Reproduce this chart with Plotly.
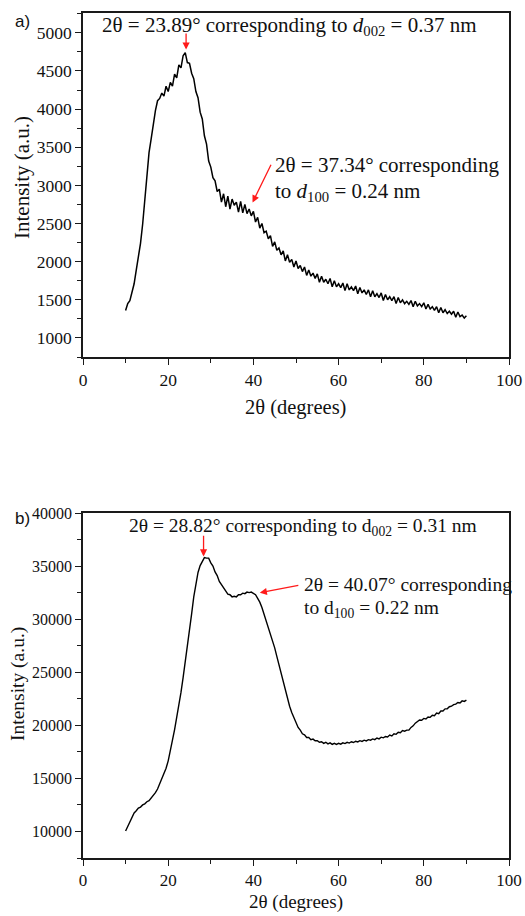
import numpy as np
import plotly.graph_objects as go

W, H = 525, 916

# ---------------- data ----------------
two_theta = np.round(np.arange(10.0, 90.01, 0.5), 2).tolist()

intensity_a = [
    1360, 1450, 1490, 1620, 1710, 1890, 2040, 2240, 2490, 2810,
    3140, 3430, 3610, 3820, 3980, 4110, 4140, 4210, 4170, 4300,
    4230, 4350, 4300, 4460, 4410, 4580, 4540, 4700, 4740, 4610,
    4600, 4470, 4400, 4230, 4150, 3960, 3870, 3650, 3540, 3320,
    3240, 3100, 3060, 2920, 2950, 2780, 2890, 2720, 2860, 2690,
    2820, 2740, 2780, 2650, 2790, 2640, 2750, 2630, 2690, 2600,
    2660, 2520, 2580, 2440, 2500, 2380, 2400, 2300, 2340, 2200,
    2260, 2150, 2180, 2090, 2140, 2010, 2090, 1990, 2030, 1930,
    2010, 1910, 1950, 1870, 1930, 1820, 1890, 1810, 1850, 1780,
    1840, 1730, 1810, 1730, 1770, 1710, 1780, 1670, 1750, 1670,
    1710, 1660, 1720, 1620, 1710, 1630, 1670, 1620, 1680, 1580,
    1660, 1590, 1630, 1570, 1630, 1540, 1620, 1540, 1580, 1530,
    1590, 1490, 1570, 1500, 1540, 1490, 1540, 1450, 1530, 1460,
    1500, 1450, 1480, 1440, 1490, 1410, 1480, 1420, 1450, 1410,
    1460, 1380, 1440, 1380, 1410, 1360, 1410, 1330, 1400, 1330,
    1370, 1320, 1350, 1310, 1350, 1270, 1340, 1280, 1300, 1260,
    1290,
]

intensity_b = [
    10050, 10450, 10800, 11350, 11750, 11950, 12200, 12300, 12500, 12600,
    12800, 12900, 13150, 13300, 13650, 14000, 14450, 14900, 15450, 15950,
    16650, 17500, 18600, 19600, 20700, 21900, 23100, 24500, 25900, 27300,
    28800, 30500, 32100, 33400, 34400, 35050, 35450, 35800, 35750, 35750,
    35300, 35000, 34450, 34100, 33550, 33250, 32850, 32650, 32350, 32300,
    32100, 32150, 32100, 32300, 32300, 32450, 32400, 32550, 32500, 32550,
    32400, 32300, 31950, 31600, 31100, 30500, 29900, 29300, 28700, 28000,
    27300, 26500, 25700, 24900, 24100, 23300, 22500, 21800, 21200, 20700,
    20250, 19800, 19550, 19200, 19100, 18850, 18850, 18650, 18700, 18550,
    18550, 18400, 18450, 18300, 18400, 18250, 18350, 18200, 18300, 18200,
    18300, 18220, 18350, 18280, 18400, 18330, 18450, 18380, 18500, 18430,
    18550, 18480, 18600, 18530, 18650, 18600, 18720, 18650, 18800, 18720,
    18880, 18820, 18950, 18900, 19080, 19000, 19200, 19150, 19350, 19300,
    19500, 19450, 19550, 19550, 19800, 19950, 20200, 20350, 20500, 20480,
    20650, 20600, 20780, 20750, 20950, 20900, 21150, 21100, 21350, 21350,
    21550, 21550, 21750, 21800, 21950, 22000, 22150, 22100, 22300, 22250,
    22380,
]

x_ticks = [0, 20, 40, 60, 80, 100]
y_ticks_a = [1000, 1500, 2000, 2500, 3000, 3500, 4000, 4500, 5000]
y_ticks_b = [10000, 15000, 20000, 25000, 30000, 35000, 40000]

# ---------------- helpers (window pixels -> paper fractions) ----------------
def px(x):
    return x / W

def py(y):
    return 1 - y / H

SERIF = "Liberation Serif"
SANS = "Liberation Sans"
AX = "#1a1a1a"

fig = go.Figure()
fig.add_trace(go.Scatter(x=two_theta, y=intensity_a, mode="lines",
                         line=dict(color="black", width=1.5),
                         xaxis="x", yaxis="y", showlegend=False))
fig.add_trace(go.Scatter(x=two_theta, y=intensity_b, mode="lines",
                         line=dict(color="black", width=1.4),
                         xaxis="x2", yaxis="y2", showlegend=False))

def xaxis(size):
    return dict(range=[0, 100], tickvals=x_ticks,
                ticktext=[str(v) for v in x_ticks], showline=True, mirror=True,
                linecolor=AX, linewidth=1.5, ticks="outside", ticklen=6,
                tickwidth=1.3, tickcolor=AX, showgrid=False, zeroline=False,
                automargin=False,
                tickfont=dict(family=SERIF, size=size, color="#111"),
                minor=dict(dtick=10, tick0=0, ticks="outside", ticklen=4,
                           tickcolor=AX, tickwidth=1.1, showgrid=False))

def yaxis(size, vals, rng, minor_dt):
    return dict(range=rng, tickvals=vals, ticktext=[str(v) for v in vals],
                showline=True, mirror=True, linecolor=AX, linewidth=1.5,
                ticks="outside", ticklen=6, tickwidth=1.3, tickcolor=AX,
                showgrid=False, zeroline=False, automargin=False,
                tickfont=dict(family=SERIF, size=size, color="#111"),
                minor=dict(dtick=minor_dt, tick0=0, ticks="outside", ticklen=4,
                           tickcolor=AX, tickwidth=1.1, showgrid=False))

fig.update_layout(
    width=W, height=H,
    margin=dict(l=0, r=0, t=0, b=0, pad=0),
    paper_bgcolor="white", plot_bgcolor="white",
    xaxis=dict(domain=[px(83), px(509)], anchor="y", **xaxis(17.5)),
    yaxis=dict(domain=[py(357), py(13)], anchor="x",
               **yaxis(17.5, y_ticks_a, [750, 5260], 250)),
    xaxis2=dict(domain=[px(83), px(509)], anchor="y2", **xaxis(17)),
    yaxis2=dict(domain=[py(858), py(513)], anchor="x2",
                **yaxis(16, y_ticks_b, [7500, 40000], 2500)),
)

ann = []

def text(x, y, s, size=19, xanchor="center", family=SERIF, angle=0):
    ann.append(dict(x=px(x), y=py(y), xref="paper", yref="paper", text=s,
                    showarrow=False, xanchor=xanchor, yanchor="middle",
                    textangle=angle,
                    font=dict(family=family, size=size, color="#111")))

def arrow(xr, yr, hx, hy, tx, ty):
    ann.append(dict(x=hx, y=hy, ax=tx, ay=ty, xref=xr, yref=yr,
                    axref=xr, ayref=yr, text="", showarrow=True,
                    arrowhead=2, arrowsize=1.1, arrowwidth=1.3,
                    arrowcolor="#ff1a1a"))

# panel labels
text(22, 21, "a)", size=17, family=SANS)
text(22, 518, "b)", size=17, family=SANS)

# axis titles
text(295, 408, "2θ (degrees)", size=20.5)
text(296, 902, "2θ (degrees)", size=19)
text(22, 178, "Intensity (a.u.)", size=21, angle=-90)
text(18, 684, "Intensity (a.u.)", size=19.5, angle=-90)

# panel a annotations
text(289, 26, "2θ = 23.89° corresponding to <i>d</i><sub>002</sub> = 0.37 nm", size=21)
text(273, 165, "2θ = 37.34° corresponding", size=21, xanchor="left")
text(273, 192, "to <i>d</i><sub>100</sub> = 0.24 nm", size=21, xanchor="left")
arrow("x", "y", 24.2, 4780, 24.2, 5010)
arrow("x", "y", 39.8, 2775, 44.3, 3290)

# panel b annotations
text(303, 527, "2θ = 28.82° corresponding to d<sub>002</sub> = 0.31 nm", size=19.5)
text(302, 584, "2θ = 40.07° corresponding", size=19.5, xanchor="left")
text(302, 609, "to d<sub>100</sub> = 0.22 nm", size=19.5, xanchor="left")
arrow("x2", "y2", 28.3, 35900, 28.3, 38000)
arrow("x2", "y2", 41.5, 32480, 50.9, 33200)

fig.update_layout(annotations=ann)
fig.write_html(
    "out.html",
    config={"displayModeBar": False},
    post_script="document.body.style.margin='0';"
                "document.body.style.overflow='hidden';",
)
